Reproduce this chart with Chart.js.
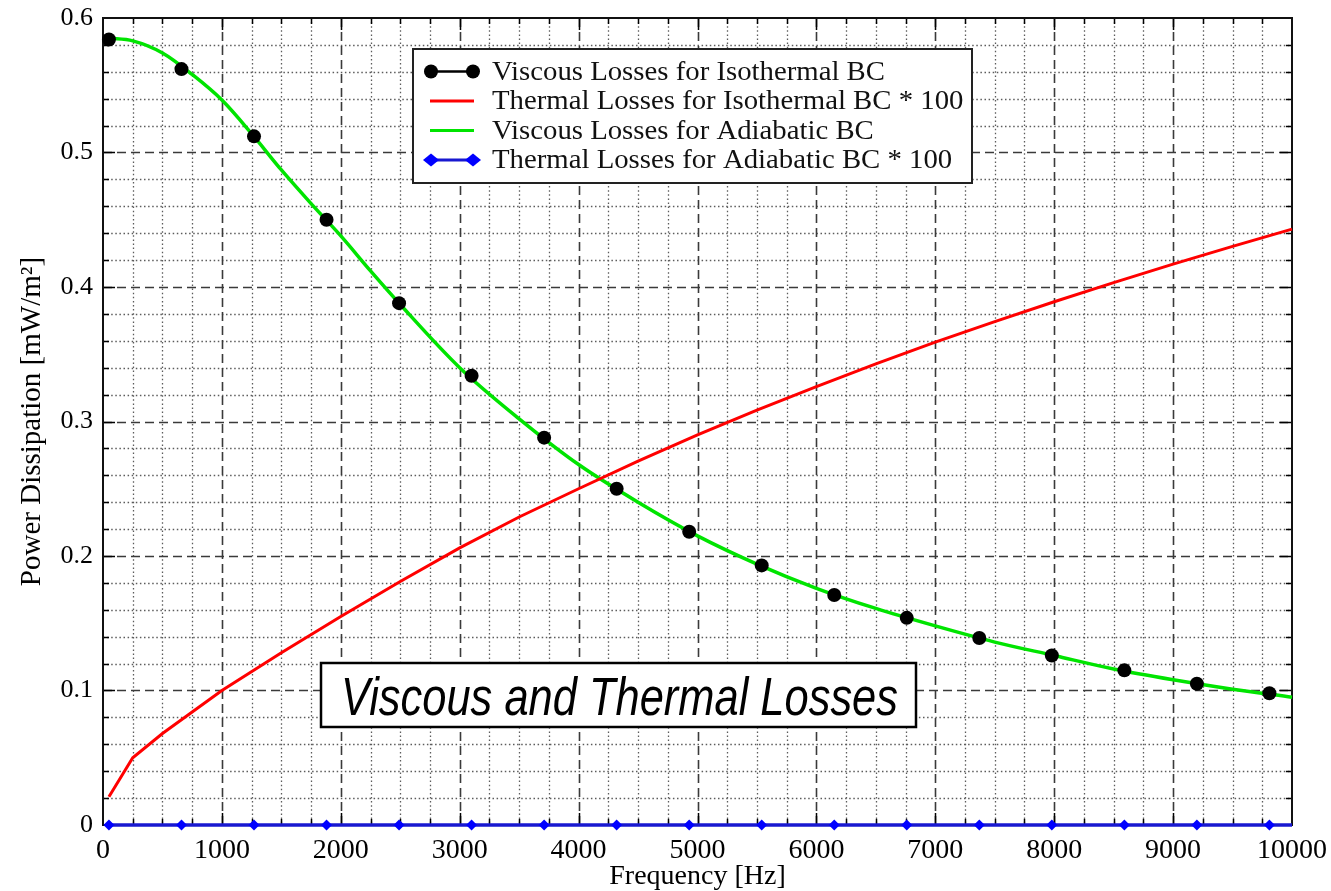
<!DOCTYPE html>
<html>
<head>
<meta charset="utf-8">
<title>Viscous and Thermal Losses</title>
<script src="https://cdn.jsdelivr.net/npm/chart.js@4.4.1/dist/chart.umd.min.js"></script>
<style>
  html, body { margin: 0; padding: 0; background: #fff; }
  #wrap { width: 1331px; height: 891px; }
</style>
</head>
<body>
<div id="wrap"><canvas id="chart" width="1331" height="891"></canvas></div>
<script>
// sampled points where the isothermal/adiabatic markers are plotted [Hz]
const markerFreqs = [50, 660, 1270, 1880, 2490, 3100, 3710, 4320, 4930, 5540, 6150, 6760, 7370, 7980, 8590, 9200, 9810];
const viscousIso = [0.584, 0.562, 0.512, 0.450, 0.388, 0.334, 0.288, 0.250, 0.218, 0.193, 0.171, 0.154, 0.139, 0.126, 0.115, 0.105, 0.098];

// viscous losses, adiabatic wall [Hz]
const adiFreqs = [50, 250, 500, 750, 1000, 1250, 1500, 1750, 2000, 2250, 2500, 3000, 3500, 4000, 4500, 5000, 5500, 6000, 6500, 7000, 7500, 8000, 8500, 9000, 9500, 10000];
const viscousAdi = [0.585, 0.583, 0.574, 0.558, 0.539, 0.514, 0.487, 0.462, 0.438, 0.412, 0.387, 0.340, 0.302, 0.268, 0.240, 0.215, 0.194, 0.176, 0.161, 0.148, 0.136, 0.126, 0.116, 0.108, 0.101, 0.095];

// thermal losses (x100), isothermal wall [Hz]
const isoFreqs = [50, 250, 500, 750, 1000, 1500, 2000, 2500, 3000, 3500, 4000, 4500, 5000, 5500, 6000, 6500, 7000, 7500, 8000, 8500, 9000, 9500, 10000];
const thermalIso = [0.021, 0.050, 0.068, 0.084, 0.100, 0.128, 0.155, 0.181, 0.206, 0.229, 0.250, 0.2705, 0.290, 0.3085, 0.326, 0.3428, 0.359, 0.3743, 0.389, 0.4033, 0.417, 0.4302, 0.443];

// thermal losses (x100), adiabatic wall: zero over the whole band
const thermalAdiFreqs = [50, 660, 1270, 1880, 2490, 3100, 3710, 4320, 4930, 5540, 6150, 6760, 7370, 7980, 8590, 9200, 9810, 10000];
const thermalAdi = [0, 0, 0, 0, 0, 0, 0, 0, 0, 0, 0, 0, 0, 0, 0, 0, 0, 0];

const xTicks = [0, 1000, 2000, 3000, 4000, 5000, 6000, 7000, 8000, 9000, 10000];
const yTicks = [0, 0.1, 0.2, 0.3, 0.4, 0.5, 0.6];

const seriesNames = [
  'Viscous Losses for Isothermal BC',
  'Thermal Losses for Isothermal BC * 100',
  'Viscous Losses for Adiabatic BC',
  'Thermal Losses for Adiabatic BC * 100'
];

const SERIF = "'Liberation Serif', 'Times New Roman', serif";
Chart.defaults.font.family = SERIF;
Chart.defaults.color = '#000';

const pts = (xs, ys) => xs.map((x, i) => ({ x: x, y: ys[i] }));

function hline(ctx, x1, x2, y) { ctx.beginPath(); ctx.moveTo(x1, y); ctx.lineTo(x2, y); ctx.stroke(); }
function vline(ctx, x, y1, y2) { ctx.beginPath(); ctx.moveTo(x, y1); ctx.lineTo(x, y2); ctx.stroke(); }

function drawMarker(ctx, style, cx, cy, r, color) {
  ctx.fillStyle = color;
  ctx.beginPath();
  if (style === 'rectRot') {
    ctx.moveTo(cx, cy - r * 0.8);
    ctx.lineTo(cx + r, cy);
    ctx.lineTo(cx, cy + r * 0.8);
    ctx.lineTo(cx - r, cy);
    ctx.closePath();
  } else {
    ctx.arc(cx, cy, r, 0, Math.PI * 2);
  }
  ctx.fill();
}

// dotted minor grid, dashed major grid, box frame with inward ticks
const frameGrid = {
  id: 'frameGrid',
  beforeDatasetsDraw(chart) {
    const { ctx, chartArea: a, scales: { x, y } } = chart;
    ctx.save();
    ctx.lineWidth = 1.3;
    ctx.strokeStyle = '#5c5c5c';
    ctx.setLineDash([1.5, 2.6]);
    for (let f = 250; f < 10000; f += 250) {
      if (f % 1000 === 0) continue;
      vline(ctx, Math.round(x.getPixelForValue(f)) + 0.5, a.top, a.bottom);
    }
    for (let k = 1; k < 30; k++) {
      if (k % 5 === 0) continue;
      hline(ctx, a.left, a.right, Math.round(y.getPixelForValue(k * 0.02)) + 0.5);
    }
    ctx.lineWidth = 1.6;
    ctx.strokeStyle = '#3a3a3a';
    ctx.setLineDash([9, 5]);
    xTicks.slice(1, -1).forEach(f => vline(ctx, Math.round(x.getPixelForValue(f)) + 0.5, a.top, a.bottom));
    yTicks.slice(1, -1).forEach(v => hline(ctx, a.left, a.right, Math.round(y.getPixelForValue(v)) + 0.5));

    ctx.setLineDash([]);
    ctx.strokeStyle = '#000';
    ctx.lineWidth = 1.5;
    for (let f = 250; f < 10000; f += 250) {
      const px = Math.round(x.getPixelForValue(f)) + 0.5;
      const len = f % 1000 === 0 ? 12 : 6;
      vline(ctx, px, a.top, a.top + len);
      vline(ctx, px, a.bottom, a.bottom - len);
    }
    for (let k = 1; k < 30; k++) {
      const py = Math.round(y.getPixelForValue(k * 0.02)) + 0.5;
      const len = k % 5 === 0 ? 12 : 6;
      hline(ctx, a.right, a.right - len, py);
      hline(ctx, a.left, a.left + len, py);
    }
    ctx.lineWidth = 2;
    ctx.strokeStyle = '#111';
    ctx.strokeRect(a.left, a.top, a.right - a.left, a.bottom - a.top);
    ctx.restore();
  }
};

// boxed legend with line+marker samples, plus the caption box
const boxes = {
  id: 'boxes',
  afterDraw(chart) {
    const { ctx } = chart;
    ctx.save();

    // legend
    const lx = 413, ly = 49, lw = 559, lh = 134, rowH = 29.5;
    ctx.fillStyle = '#fff';
    ctx.fillRect(lx, ly, lw, lh);
    ctx.lineWidth = 2;
    ctx.strokeStyle = '#222';
    ctx.strokeRect(lx, ly, lw, lh);

    ctx.font = '27px ' + SERIF;
    const sx = 393 / ctx.measureText(seriesNames[0]).width;
    chart.data.datasets.forEach((ds, i) => {
      const cy = ly + 22.5 + i * rowH;
      ctx.strokeStyle = ds.borderColor;
      ctx.lineWidth = ds.legendLineWidth;
      hline(ctx, 430, 474, cy);
      if (ds.legendMarker) {
        drawMarker(ctx, ds.legendMarker, 431, cy, ds.legendMarkerSize, ds.pointBackgroundColor);
        drawMarker(ctx, ds.legendMarker, 473, cy, ds.legendMarkerSize, ds.pointBackgroundColor);
      }
      ctx.save();
      ctx.translate(492, cy);
      ctx.scale(sx, 1);
      ctx.fillStyle = '#111';
      ctx.textBaseline = 'middle';
      ctx.fillText(ds.label, 0, 1);
      ctx.restore();
    });

    // caption
    const cx = 321, cyTop = 663, cw = 595, ch = 64;
    ctx.fillStyle = '#fff';
    ctx.fillRect(cx, cyTop, cw, ch);
    ctx.lineWidth = 2.5;
    ctx.strokeStyle = '#000';
    ctx.strokeRect(cx, cyTop, cw, ch);
    const caption = 'Viscous and Thermal Losses';
    ctx.font = 'italic 53px "Liberation Sans", Arial, sans-serif';
    const cs = 557 / ctx.measureText(caption).width;
    ctx.save();
    ctx.translate(341, 715);
    ctx.scale(cs, 1);
    ctx.fillStyle = '#000';
    ctx.textBaseline = 'alphabetic';
    ctx.fillText(caption, 0, 0);
    ctx.restore();

    ctx.restore();
  }
};

new Chart(document.getElementById('chart'), {
  type: 'line',
  data: {
    datasets: [
      {
        label: seriesNames[0],
        data: pts(markerFreqs, viscousIso),
        showLine: false,
        borderColor: '#000',
        pointBackgroundColor: '#000',
        pointBorderWidth: 0,
        pointRadius: 7,
        legendLineWidth: 2.5,
        legendMarker: 'circle',
        legendMarkerSize: 7,
        clip: false
      },
      {
        label: seriesNames[1],
        data: pts(isoFreqs, thermalIso),
        borderColor: '#ff0000',
        borderWidth: 3,
        pointRadius: 0,
        tension: 0,
        legendLineWidth: 3,
        clip: false
      },
      {
        label: seriesNames[2],
        data: pts(adiFreqs, viscousAdi),
        borderColor: '#00e400',
        borderWidth: 3.5,
        pointRadius: 0,
        cubicInterpolationMode: 'monotone',
        legendLineWidth: 3,
        clip: false
      },
      {
        label: seriesNames[3],
        data: pts(thermalAdiFreqs, thermalAdi),
        borderColor: '#1818d0',
        borderWidth: 3.5,
        pointStyle: 'rectRot',
        pointBackgroundColor: '#0000ff',
        pointBorderWidth: 0,
        pointRadius: c => (c.dataIndex < markerFreqs.length ? 5.5 : 0),
        legendLineWidth: 3,
        legendMarker: 'rectRot',
        legendMarkerSize: 8,
        clip: false
      }
    ]
  },
  options: {
    responsive: false,
    animation: false,
    events: [],
    layout: { padding: { left: 0, right: 39, top: 18, bottom: 0 } },
    plugins: {
      legend: { display: false },
      tooltip: { enabled: false }
    },
    scales: {
      x: {
        type: 'linear',
        min: 0,
        max: 10000,
        afterFit: s => { s.height = 66; s.paddingLeft = 0; s.paddingRight = 0; },
        afterBuildTicks: s => { s.ticks = xTicks.map(v => ({ value: v })); },
        grid: { display: false, drawTicks: false },
        border: { display: false },
        ticks: {
          font: { size: 28 },
          padding: 9,
          maxRotation: 0,
          autoSkip: false,
          callback: v => String(v)
        },
        title: {
          display: true,
          text: 'Frequency [Hz]',
          font: { size: 28, lineHeight: 1.0 },
          padding: { top: 0, bottom: 0 }
        }
      },
      y: {
        type: 'linear',
        min: 0,
        max: 0.6,
        afterFit: s => { s.width = 103; s.paddingTop = 0; s.paddingBottom = 0; },
        afterBuildTicks: s => { s.ticks = yTicks.map(v => ({ value: v })); },
        grid: { display: false, drawTicks: false },
        border: { display: false },
        ticks: {
          font: { size: 26 },
          padding: 10,
          autoSkip: false,
          callback: v => (v === 0 ? '0' : v.toFixed(1))
        },
        title: {
          display: true,
          text: 'Power Dissipation [mW/m²]',
          font: { size: 29, lineHeight: 1.2 },
          padding: { top: 15, bottom: 0 }
        }
      }
    }
  },
  plugins: [frameGrid, boxes]
});
</script>
</body>
</html>
